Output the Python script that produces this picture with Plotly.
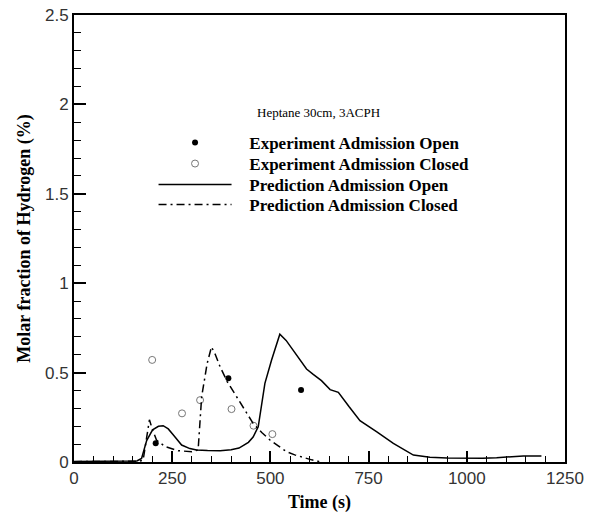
import plotly.graph_objects as go

# Measured hydrogen molar fraction (%)
time_exp_open = [208, 393, 578]
h2_exp_open = [0.105, 0.468, 0.402]

time_exp_closed = [199, 275, 321, 401, 457, 505]
h2_exp_closed = [0.571, 0.272, 0.346, 0.296, 0.203, 0.156]

# Predicted hydrogen molar fraction (%)
time_pred_open = [0, 100, 160, 172, 185, 200, 215, 227, 240, 253, 274, 295, 312, 340,
                  372, 400, 420, 444, 456, 469, 486, 503, 524, 540, 558, 575, 592, 609,
                  630, 652, 673, 700, 728, 771, 813, 864, 906, 950, 1000, 1040, 1076,
                  1110, 1144, 1190]
h2_pred_open = [0.003, 0.003, 0.006, 0.02, 0.12, 0.18, 0.2, 0.203, 0.185, 0.151, 0.095,
                0.075, 0.067, 0.064, 0.063, 0.068, 0.078, 0.11, 0.14, 0.197, 0.44, 0.57,
                0.715, 0.68, 0.626, 0.57, 0.52, 0.49, 0.455, 0.405, 0.39, 0.31, 0.231,
                0.169, 0.104, 0.039, 0.026, 0.022, 0.02, 0.021, 0.024, 0.028, 0.034, 0.034]

time_pred_closed = [0, 100, 165, 176, 185, 192, 200, 210, 232, 253, 265, 300, 316, 325,
                    339, 350, 360, 372, 390, 414, 435, 456, 478, 499, 520, 541, 562, 584,
                    605, 618, 626]
h2_pred_closed = [0.002, 0.002, 0.004, 0.01, 0.15, 0.236, 0.18, 0.123, 0.086, 0.072,
                  0.063, 0.058, 0.068, 0.365, 0.551, 0.644, 0.6, 0.532, 0.45, 0.365,
                  0.29, 0.216, 0.165, 0.123, 0.09, 0.058, 0.04, 0.024, 0.012, 0.007, 0.0]

x_ticks = [0, 250, 500, 750, 1000, 1250]
y_ticks = [0, 0.5, 1, 1.5, 2, 2.5]
y_tick_text = ["0", "0.5", "1", "1.5", "2", "2.5"]

case_label = "Heptane 30cm, 3ACPH"

serif = "Liberation Serif, Times New Roman, serif"
sans = "Liberation Sans, Arial, sans-serif"

fig = go.Figure()
fig.add_trace(go.Scatter(
    x=time_exp_open, y=h2_exp_open, mode="markers",
    name="   Experiment Admission Open", legend="legend",
    marker=dict(symbol="circle", size=6, color="black"),
))
fig.add_trace(go.Scatter(
    x=time_exp_closed, y=h2_exp_closed, mode="markers",
    name="   Experiment Admission Closed", legend="legend2",
    marker=dict(symbol="circle-open", size=7, color="#777777", line=dict(width=1)),
))
fig.add_trace(go.Scatter(
    x=time_pred_open, y=h2_pred_open, mode="lines",
    name="   Prediction Admission Open", legend="legend3",
    line=dict(color="black", width=1.5),
))
fig.add_trace(go.Scatter(
    x=time_pred_closed, y=h2_pred_closed, mode="lines",
    name="   Prediction Admission Closed", legend="legend4",
    line=dict(color="black", width=1.5, dash="8px,4px,2px,4px"),
))

axis_common = dict(
    showline=True, linecolor="black", linewidth=2, mirror=True,
    showgrid=False, zeroline=False, automargin=False,
    ticks="inside", tickcolor="black", tickwidth=2,
    tickfont=dict(family=sans, size=17, color="#333333"),
)

fig.update_xaxes(
    range=[0, 1250], tickvals=x_ticks, ticklen=11,
    minor=dict(dtick=50, ticks="inside", ticklen=6, tickcolor="black", tickwidth=1),
    title=dict(text="Time (s)", font=dict(family=serif, size=18, color="black", weight="bold"),
               standoff=11),
    **axis_common,
)
fig.update_yaxes(
    range=[0, 2.5], tickvals=y_ticks, ticktext=y_tick_text, ticklen=12,
    minor=dict(dtick=0.1, ticks="inside", ticklen=7, tickcolor="black", tickwidth=1),
    title=dict(text="Molar fraction of Hydrogen (%)",
               font=dict(family=serif, size=18, color="black", weight="bold"), standoff=10),
    **axis_common,
)

# one legend per row so the rows sit at a fixed spacing
legend_style = dict(
    x=0.162, xanchor="left", yanchor="middle",
    bgcolor="rgba(0,0,0,0)", borderwidth=0, itemwidth=73,
    font=dict(family=serif, size=17, color="black", weight="bold"),
)
row_y = [0.7137, 0.6667, 0.6197, 0.575]

fig.update_layout(
    width=590, height=513,
    margin=dict(l=74, r=25, t=15, b=51),
    plot_bgcolor="white", paper_bgcolor="white",
    showlegend=True,
    legend=dict(y=row_y[0], **legend_style),
    legend2=dict(y=row_y[1], **legend_style),
    legend3=dict(y=row_y[2], **legend_style),
    legend4=dict(y=row_y[3], **legend_style),
    annotations=[dict(
        text=case_label, xref="paper", yref="paper", x=0.497, y=0.781,
        xanchor="center", yanchor="middle", showarrow=False,
        font=dict(family=serif, size=13, color="black"),
    )],
)

fig.write_html("out.html")
